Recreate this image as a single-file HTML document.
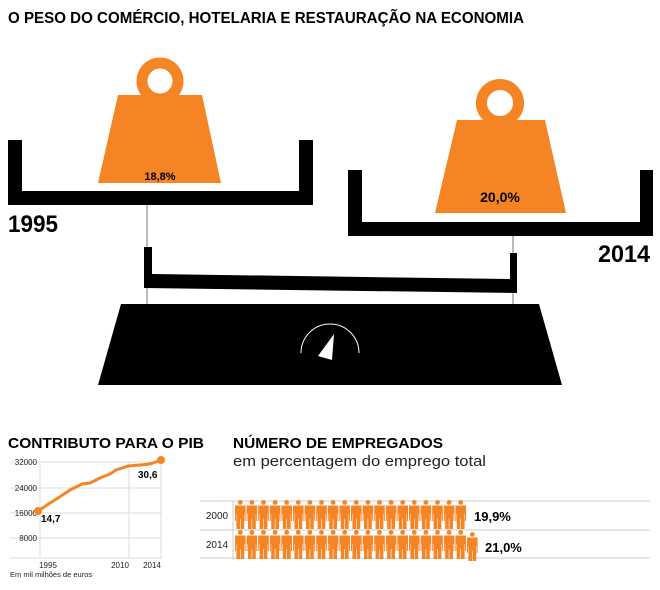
<!DOCTYPE html>
<html><head><meta charset="utf-8"><style>
html,body{margin:0;padding:0;background:#fff;}
svg{display:block;font-family:"Liberation Sans",sans-serif;}
</style></head><body>
<svg width="660" height="590" viewBox="0 0 660 590" xmlns="http://www.w3.org/2000/svg">
<defs>
<g id="p">
<circle cx="5.3" cy="2.4" r="2.4"/>
<path d="M0,5.5 H10.6 V21 H9.6 V14 H9.2 V29 H5.6 V19 H5 V29 H1.4 V14 H1 V21 H0 Z"/>
</g>
</defs>
<text x="8" y="23" font-size="15.5" font-weight="bold" textLength="516" lengthAdjust="spacingAndGlyphs">O PESO DO COMÉRCIO, HOTELARIA E RESTAURAÇÃO NA ECONOMIA</text>

<path d="M8,140 H22 V191 H299 V140 H313 V205 H8 Z" fill="#000"/>
<circle cx="160" cy="81" r="18" fill="none" stroke="#f58424" stroke-width="11"/>
<polygon points="118,95 202,95 221,183 98,183" fill="#f58424"/>
<text x="160" y="180" font-size="11" font-weight="bold" text-anchor="middle">18,8%</text>
<text x="8" y="232" font-size="24" font-weight="bold" textLength="50" lengthAdjust="spacingAndGlyphs">1995</text>
<line x1="147" y1="205" x2="147" y2="304" stroke="#777" stroke-width="1"/>

<path d="M348,170 H362 V222 H640 V170 H653 V236 H348 Z" fill="#000"/>
<circle cx="500" cy="103" r="18.5" fill="none" stroke="#f58424" stroke-width="11"/>
<polygon points="457,120 545,120 566,213 435,213" fill="#f58424"/>
<text x="500" y="202" font-size="14" font-weight="bold" text-anchor="middle">20,0%</text>
<text x="650" y="262" font-size="24" font-weight="bold" text-anchor="end" textLength="52" lengthAdjust="spacingAndGlyphs">2014</text>
<line x1="513" y1="236" x2="513" y2="304" stroke="#777" stroke-width="1"/>

<polygon points="144,247 152,247 152,274 510,279 510,253 517,253 517,293 144,288" fill="#000"/>

<polygon points="121,304 539,304 562,385 98,385" fill="#000"/>
<path d="M301,353 A29,29 0 0 1 359,353" fill="none" stroke="#fff" stroke-width="1"/>
<polygon points="334,334 318,356 332,360" fill="#fff"/>

<text x="8" y="448" font-size="15" font-weight="bold" textLength="196" lengthAdjust="spacingAndGlyphs">CONTRIBUTO PARA O PIB</text>
<g stroke="#ddd" stroke-width="1">
<line x1="10" y1="462" x2="162" y2="462"/>
<line x1="10" y1="488" x2="162" y2="488"/>
<line x1="10" y1="513" x2="162" y2="513"/>
<line x1="10" y1="538" x2="162" y2="538"/>
<line x1="10" y1="558" x2="162" y2="558"/>
<line x1="40" y1="462" x2="40" y2="558"/>
<line x1="129" y1="462" x2="129" y2="558"/>
<line x1="161" y1="462" x2="161" y2="558"/>
</g>
<g font-size="8" fill="#222" text-anchor="end">
<text x="37" y="465">32000</text>
<text x="37" y="491">24000</text>
<text x="37" y="516">16000</text>
<text x="37" y="541">8000</text>
</g>
<polyline points="38,511 50,503 58,498 70,490 82,484 90,483 100,478 110,474 116,470 128,466 140,465 150,464 161,460" fill="none" stroke="#f58424" stroke-width="3" stroke-linejoin="round"/>
<circle cx="38" cy="511" r="4" fill="#f58424"/>
<circle cx="161" cy="460" r="4" fill="#f58424"/>
<text x="41" y="522" font-size="10" font-weight="bold">14,7</text>
<text x="138" y="478" font-size="10" font-weight="bold">30,6</text>
<g font-size="8" fill="#222" text-anchor="middle">
<text x="48" y="568">1995</text>
<text x="120" y="568">2010</text>
<text x="152" y="568">2014</text>
</g>
<text x="10" y="577" font-size="7.5" fill="#222">Em mil milhões de euros</text>

<text x="233" y="448" font-size="15" font-weight="bold" textLength="210" lengthAdjust="spacingAndGlyphs">NÚMERO DE EMPREGADOS</text>
<text x="233" y="466" font-size="15" fill="#222" textLength="253" lengthAdjust="spacingAndGlyphs">em percentagem do emprego total</text>
<g stroke="#ccc" stroke-width="1">
<line x1="200" y1="501" x2="650" y2="501"/>
<line x1="200" y1="530" x2="650" y2="530"/>
<line x1="200" y1="558" x2="650" y2="558"/>
<line x1="233" y1="501" x2="233" y2="560"/>
</g>
<text x="217" y="519" font-size="10" fill="#222" text-anchor="middle">2000</text>
<text x="217" y="548" font-size="10" fill="#222" text-anchor="middle">2014</text>
<g fill="#f58424">
<use href="#p" x="235" y="500"/><use href="#p" x="246.6" y="500"/><use href="#p" x="258.2" y="500"/><use href="#p" x="269.8" y="500"/><use href="#p" x="281.4" y="500"/><use href="#p" x="293" y="500"/><use href="#p" x="304.6" y="500"/><use href="#p" x="316.2" y="500"/><use href="#p" x="327.8" y="500"/><use href="#p" x="339.4" y="500"/><use href="#p" x="351" y="500"/><use href="#p" x="362.6" y="500"/><use href="#p" x="374.2" y="500"/><use href="#p" x="385.8" y="500"/><use href="#p" x="397.4" y="500"/><use href="#p" x="409" y="500"/><use href="#p" x="420.6" y="500"/><use href="#p" x="432.2" y="500"/><use href="#p" x="443.8" y="500"/><use href="#p" x="455.4" y="500"/>
<use href="#p" x="235" y="530"/><use href="#p" x="246.6" y="530"/><use href="#p" x="258.2" y="530"/><use href="#p" x="269.8" y="530"/><use href="#p" x="281.4" y="530"/><use href="#p" x="293" y="530"/><use href="#p" x="304.6" y="530"/><use href="#p" x="316.2" y="530"/><use href="#p" x="327.8" y="530"/><use href="#p" x="339.4" y="530"/><use href="#p" x="351" y="530"/><use href="#p" x="362.6" y="530"/><use href="#p" x="374.2" y="530"/><use href="#p" x="385.8" y="530"/><use href="#p" x="397.4" y="530"/><use href="#p" x="409" y="530"/><use href="#p" x="420.6" y="530"/><use href="#p" x="432.2" y="530"/><use href="#p" x="443.8" y="530"/><use href="#p" x="455.4" y="530"/><use href="#p" x="467" y="532"/>
</g>
<text x="474" y="521" font-size="13" font-weight="bold">19,9%</text>
<text x="485" y="552" font-size="13" font-weight="bold">21,0%</text>
</svg>
</body></html>
